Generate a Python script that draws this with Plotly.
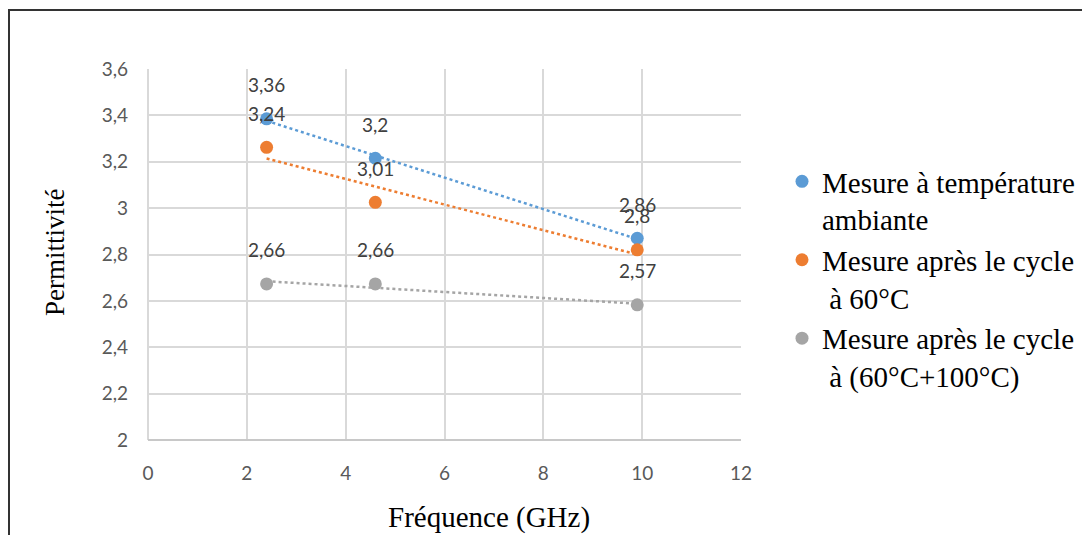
import numpy as np
import plotly.graph_objects as go

# ---- data ----
freq = [2.4, 4.6, 9.9]
series_names = [
    "Mesure à température<br>ambiante",
    "Mesure après le cycle<br> à 60°C",
    "Mesure après le cycle<br> à (60°C+100°C)",
]
ambiante = [3.385, 3.215, 2.87]
cycle60 = [3.262, 3.025, 2.82]
cycle160 = [2.673, 2.673, 2.583]
labels_ambiante = ["3,36", "3,2", "2,86"]
labels_cycle60 = ["3,24", "3,01", "2,8"]
labels_cycle160 = ["2,66", "2,66", "2,57"]
colors = ["#5B9BD5", "#ED7D31", "#A5A5A5"]

x_tickvals = [0, 2, 4, 6, 8, 10, 12]
x_ticktext = ["0", "2", "4", "6", "8", "10", "12"]
y_tickvals = [2, 2.2, 2.4, 2.6, 2.8, 3.0, 3.2, 3.4, 3.6]
y_ticktext = ["2", "2,2", "2,4", "2,6", "2,8", "3", "3,2", "3,4", "3,6"]

# page offset of 8px (body margin) -> figure coords = screen coords - 8
OFF = 8
W, H = 1090, 535
L, R, T, B = 148 - OFF, 1090 - (741 - OFF), 69 - OFF, 535 - (440 - OFF)
pw, ph = W - L - R, H - T - B


def px(xs):
    return (xs - OFF - L) / pw


def py(ys):
    return (H - B - (ys - OFF)) / ph


fig = go.Figure()
all_series = [ambiante, cycle60, cycle160]
all_labels = [labels_ambiante, labels_cycle60, labels_cycle160]

# trendlines (linear fit, dotted)
for ys, c in zip(all_series, colors):
    a, b = np.polyfit(freq, ys, 1)
    xs = np.array([freq[0], freq[-1]])
    fig.add_trace(go.Scatter(x=xs, y=a * xs + b, mode="lines",
                             line=dict(color=c, width=2.5, dash="dot"),
                             showlegend=False, hoverinfo="skip"))

for ys, c, name in zip(all_series, colors, series_names):
    fig.add_trace(go.Scatter(x=freq, y=ys, mode="markers", name=name,
                             marker=dict(color=c, size=13)))

# data labels
for ys, labs in zip(all_series, all_labels):
    for xv, yv, t in zip(freq, ys, labs):
        fig.add_annotation(x=xv, y=yv, text=t, showarrow=False, yshift=34,
                           font=dict(family="Lato, Open Sans, sans-serif", size=19, color="#404040"))

serif = "Liberation Serif, Times New Roman, serif"
fig.add_annotation(xref="paper", yref="paper", x=px(489), y=py(517),
                   xanchor="center", yanchor="middle",
                   text="Fréquence (GHz)", showarrow=False,
                   font=dict(family=serif, size=29, color="#000000"))
fig.add_annotation(xref="paper", yref="paper", x=px(55), y=py(252),
                   xanchor="center", yanchor="middle",
                   text="Permittivité", textangle=-90, showarrow=False,
                   font=dict(family=serif, size=27, color="#000000"))

# outer border
fig.add_shape(type="rect", xref="paper", yref="paper",
              x0=px(9), x1=px(1100), y0=py(560), y1=py(10),
              line=dict(color="#333333", width=2))

tickfont = dict(family="Lato, Open Sans, sans-serif", size=19, color="#595959")
fig.update_xaxes(range=[0, 12], tickvals=x_tickvals, ticktext=x_ticktext,
                 showgrid=True, gridcolor="#d9d9d9", gridwidth=1.5,
                 zeroline=True, zerolinecolor="#d9d9d9", zerolinewidth=1.5,
                 showline=False, ticks="", tickfont=tickfont, ticklabelstandoff=20)
fig.update_yaxes(range=[2, 3.6], tickvals=y_tickvals, ticktext=y_ticktext,
                 showgrid=True, gridcolor="#d9d9d9", gridwidth=1.5,
                 zeroline=False, showline=False, ticks="", tickfont=tickfont,
                 ticklabelstandoff=19)
# bottom axis line
fig.add_shape(type="line", xref="paper", yref="paper", x0=0, x1=1, y0=0, y1=0,
              line=dict(color="#c8c8c8", width=2))

fig.update_layout(
    width=W, height=H,
    margin=dict(l=L, r=R, t=T, b=B),
    paper_bgcolor="white", plot_bgcolor="white",
    showlegend=True,
    legend=dict(x=px(782), y=py(156), xanchor="left", yanchor="top",
                font=dict(family=serif, size=29, color="#000000"),
                valign="top", tracegroupgap=16, bgcolor="rgba(0,0,0,0)"),
)

fig.write_html("out.html")
